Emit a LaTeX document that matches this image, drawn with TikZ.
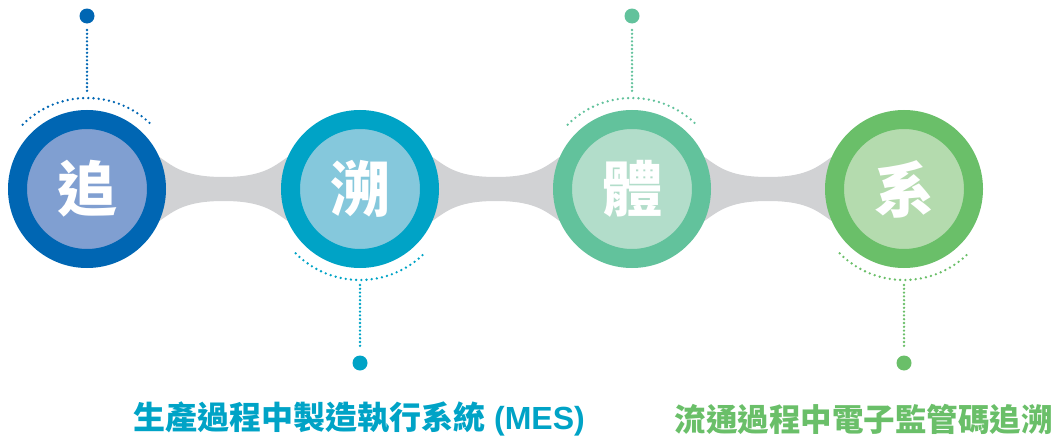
\documentclass[tikz,border=0pt]{standalone}
\usepackage{fontspec}
\newfontfamily\cjk{Noto Sans CJK TC}
\newfontfamily\lat{Liberation Sans}
\usetikzlibrary{calc}
\definecolor{oA}{HTML}{0066B3}\definecolor{iA}{HTML}{809FD1}
\definecolor{oB}{HTML}{00A3C6}\definecolor{iB}{HTML}{85C8DC}
\definecolor{oC}{HTML}{62C29C}\definecolor{iC}{HTML}{B2DDCA}
\definecolor{oD}{HTML}{6ABF69}\definecolor{iD}{HTML}{B4DBAE}
\definecolor{gry}{HTML}{D1D2D4}
\begin{document}
\begin{tikzpicture}[x=1pt,y=-1pt,
  ring/.style={circle, inner sep=0pt, minimum size=139pt, line width=19pt, text=white,
    font=\cjk\bfseries\fontsize{60}{60}\selectfont},
  vdots/.style={line width=2.6pt, line cap=round, dash pattern=on 0pt off 3.8pt},
  adots/.style={line width=2.6pt, line cap=round, dash pattern=on 0pt off 5.2pt},
  bigdot/.style={circle, inner sep=0pt, minimum size=15pt},
  caption/.style={font=\cjk\bfseries\fontsize{32}{32}\selectfont, inner sep=0pt}
]
\useasboundingbox (0,0) rectangle (1058,439);
\coordinate (p1) at (87,189);
\coordinate (p2) at (360,189);
\coordinate (p3) at (632,189);
\coordinate (p4) at (904,189);
% gray connectors
\foreach \a/\b in {p1/p2,p2/p3,p3/p4}{
  \coordinate (m) at ($(\a)!0.5!(\b)$);
  \coordinate (mt) at ($(m)+(0,-12)$);
  \coordinate (mb) at ($(m)+(0,12)$);
  \coordinate (a1) at ($(\a)+(-28,76)$);
  \coordinate (a1) at ($(\a)+(-28:76)$);
  \coordinate (a2) at ($(\a)+(28:76)$);
  \coordinate (b1) at ($(\b)+(208:76)$);
  \coordinate (b2) at ($(\b)+(152:76)$);
  \fill[gry] (a1) .. controls ($(a1)+(18,12)$) and ($(mt)+(-42,0)$) .. (mt)
     .. controls ($(mt)+(42,0)$) and ($(b1)+(-18,12)$) .. (b1)
     -- (b2) .. controls ($(b2)+(-18,-12)$) and ($(mb)+(42,0)$) .. (mb)
     .. controls ($(mb)+(-42,0)$) and ($(a2)+(18,-12)$) .. (a2) -- cycle;
}
% circles
\node[ring, draw=oA, fill=iA] (c1) at (p1) {追};
\node[ring, draw=oB, fill=iB] (c2) at (p2) {溯};
\node[ring, draw=oC, fill=iC] (c3) at (p3) {體};
\node[ring, draw=oD, fill=iD] (c4) at (p4) {系};
% decorations
\draw[adots, oA] (p1) ++(225:91) arc[start angle=225, end angle=315, radius=91];
\draw[adots, oC] (p3) ++(225:91) arc[start angle=225, end angle=315, radius=91];
\draw[adots, oB] (p2) ++(135:91) arc[start angle=135, end angle=45, radius=91];
\draw[adots, oD] (p4) ++(135:91) arc[start angle=135, end angle=45, radius=91];
\node[bigdot, fill=oA] (d1) at (87,16) {};
\node[bigdot, fill=oC] (d3) at (632,16) {};
\node[bigdot, fill=oB] (d2) at (360,363) {};
\node[bigdot, fill=oD] (d4) at (904,363) {};
\coordinate (v1a) at (87,30);  \coordinate (v1b) at (87,93);
\coordinate (v3a) at (632,30); \coordinate (v3b) at (632,93);
\coordinate (v2a) at (360,285); \coordinate (v2b) at (360,349);
\coordinate (v4a) at (904,285); \coordinate (v4b) at (904,349);
\draw[vdots, oA] (v1a) -- (v1b);
\draw[vdots, oC] (v3a) -- (v3b);
\draw[vdots, oB] (v2a) -- (v2b);
\draw[vdots, oD] (v4a) -- (v4b);
% captions
\node[caption, text=oB] (t1) at (359,419) {生產過程中製造執行系統{\lat\bfseries\ (MES)}};
\node[caption, text=oD, font=\cjk\bfseries\fontsize{31.5}{31.5}\selectfont, anchor=east] (t2) at (1053,419) {流通過程中電子監管碼追溯};
\end{tikzpicture}
\end{document}
